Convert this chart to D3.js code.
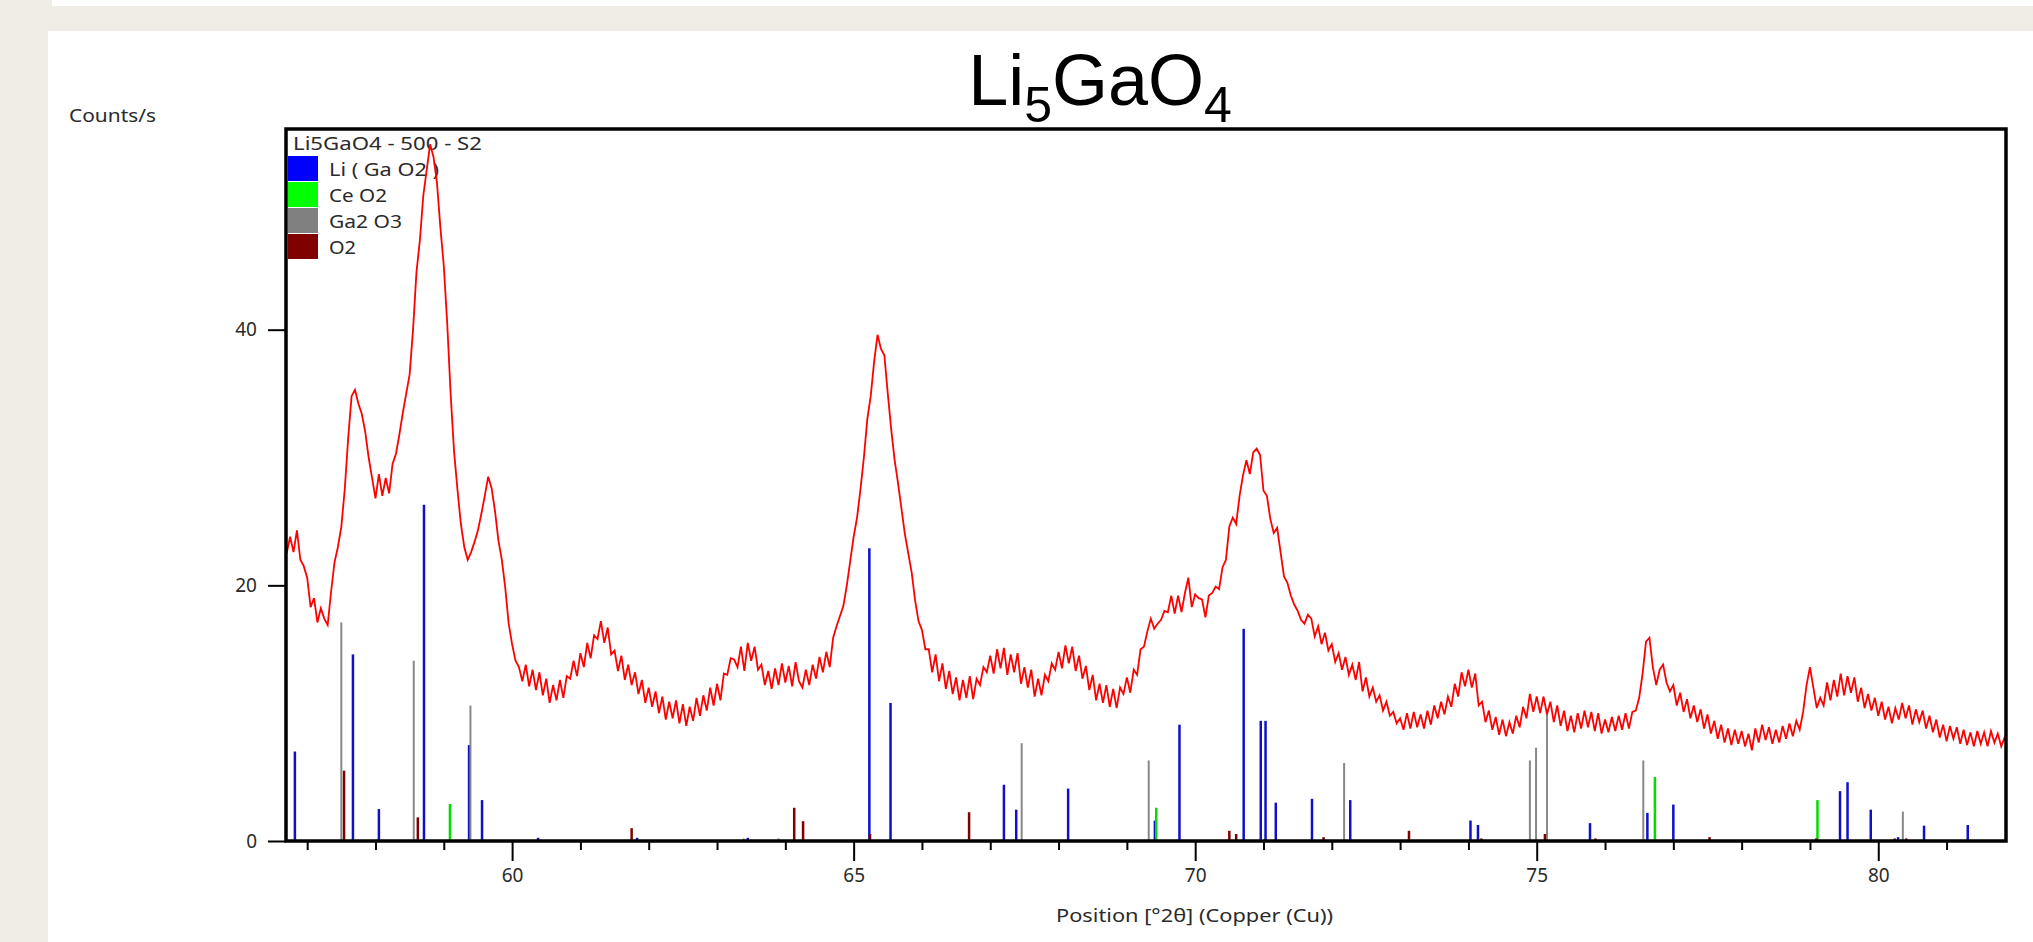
<!DOCTYPE html>
<html>
<head>
<meta charset="utf-8">
<script src="https://cdn.jsdelivr.net/npm/d3@7"></script>
<style>
body { margin: 0; background: #fff; }
text { font-family: "Noto Sans", "Open Sans", sans-serif; fill: #2a2a2a; }
</style>
</head>
<body>
<svg id="svg1" width="2033" height="942"></svg>
<script>
// measured scan, Counts/s every 0.05 deg 2theta starting at 56.70
var thetaStart = 56.70;
var thetaStep = 0.05;
var counts = [
  22.5, 23.8, 22.6, 24.3, 22.0, 21.5, 20.6, 18.3, 19.0, 17.1, 18.2, 17.4, 16.9, 19.5, 21.8, 23.0, 24.6, 27.5, 31.5, 34.8,
  35.3, 34.2, 33.4, 32.0, 30.0, 28.4, 26.8, 28.7, 27.0, 28.4, 27.2, 29.5, 30.3, 31.8, 33.5, 35.0, 36.5, 40.0, 44.5, 47.0,
  50.5, 52.5, 54.5, 53.5, 51.5, 48.0, 45.0, 40.5, 35.0, 30.5, 27.5, 24.8, 23.0, 22.0, 22.6, 23.4, 24.3, 25.6, 27.0, 28.5,
  27.6, 25.8, 23.5, 22.0, 19.8, 17.0, 15.4, 14.1, 13.6, 12.5, 13.8, 12.1, 13.4, 11.8, 13.2, 11.4, 12.7, 10.8, 12.2, 11.0,
  12.6, 11.2, 12.9, 12.7, 14.1, 12.9, 14.7, 13.6, 15.5, 14.3, 16.1, 15.8, 17.2, 15.5, 16.7, 14.6, 14.9, 13.3, 14.5, 12.6,
  13.8, 12.2, 13.2, 11.5, 12.6, 10.8, 12.0, 10.5, 11.7, 10.0, 11.3, 9.5, 10.9, 9.6, 11.0, 9.2, 10.7, 9.0, 10.5, 9.4,
  11.2, 9.8, 11.4, 10.2, 12.0, 10.6, 12.3, 11.0, 13.1, 13.0, 14.3, 14.2, 13.6, 15.2, 13.3, 15.5, 14.1, 15.2, 13.4, 13.8,
  12.2, 13.3, 11.9, 13.5, 12.2, 13.9, 12.4, 13.7, 12.1, 14.0, 12.5, 12.0, 13.4, 12.2, 13.8, 12.7, 14.4, 13.2, 14.8, 13.6,
  15.9, 16.8, 17.6, 18.4, 20.0, 21.9, 23.8, 25.3, 27.5, 30.0, 33.0, 34.8, 37.5, 39.6, 38.5, 38.0, 35.0, 32.2, 29.8, 28.0,
  26.0, 24.0, 22.5, 21.0, 18.8, 17.2, 16.5, 15.0, 15.0, 13.2, 14.6, 12.5, 13.9, 11.9, 13.3, 11.5, 12.8, 11.0, 12.6, 11.2,
  12.9, 11.1, 12.7, 12.2, 13.6, 13.2, 14.5, 13.1, 15.0, 13.5, 15.1, 13.0, 14.6, 13.2, 14.7, 12.3, 13.6, 12.0, 13.4, 11.3,
  12.7, 11.4, 13.0, 12.5, 13.9, 13.4, 14.8, 13.5, 15.3, 13.9, 15.2, 13.3, 14.5, 12.7, 13.7, 11.8, 13.0, 11.0, 12.3, 10.8,
  12.2, 10.5, 11.9, 10.4, 12.0, 11.5, 12.8, 11.6, 13.4, 13.0, 15.0, 15.2, 16.4, 17.4, 16.6, 17.0, 17.3, 18.0, 17.9, 19.2,
  17.8, 19.2, 17.9, 19.4, 20.6, 18.3, 19.3, 19.0, 18.9, 17.5, 19.2, 19.4, 19.9, 19.7, 21.4, 22.0, 24.6, 25.3, 24.8, 27.0,
  28.6, 29.8, 28.7, 30.4, 30.7, 30.2, 27.4, 27.0, 25.2, 24.1, 24.5, 22.6, 20.7, 20.2, 19.2, 18.5, 18.0, 17.3, 17.0, 17.7,
  17.4, 16.0, 16.8, 15.4, 16.3, 14.9, 15.4, 14.0, 14.7, 13.4, 14.4, 13.0, 13.8, 12.6, 14.0, 11.7, 12.8, 11.3, 12.0, 10.9,
  11.4, 10.2, 10.9, 9.8, 10.1, 9.2, 9.6, 8.7, 10.0, 8.8, 10.1, 8.9, 9.9, 8.8, 10.2, 9.1, 10.6, 9.6, 10.9, 9.9,
  11.3, 10.5, 12.3, 11.3, 13.2, 12.1, 13.4, 12.0, 13.1, 10.6, 10.9, 9.3, 10.2, 8.7, 9.7, 8.3, 9.5, 8.2, 9.3, 8.4,
  9.8, 8.9, 10.5, 9.6, 11.5, 10.1, 11.3, 10.0, 11.3, 9.9, 10.9, 9.3, 10.6, 9.0, 10.2, 8.6, 9.8, 8.5, 10.0, 8.8,
  10.2, 8.9, 10.1, 8.6, 10.0, 8.4, 9.5, 8.5, 9.7, 8.6, 9.8, 8.7, 10.0, 8.8, 10.1, 10.2, 11.2, 13.1, 15.6, 15.9,
  13.6, 12.2, 13.4, 13.8, 12.4, 11.7, 12.2, 10.6, 11.6, 10.1, 11.1, 9.6, 10.6, 9.3, 10.3, 8.8, 9.9, 8.4, 9.4, 8.0,
  9.1, 7.7, 8.8, 7.5, 8.7, 7.6, 8.6, 7.4, 8.4, 7.1, 8.8, 7.7, 9.1, 7.9, 8.9, 7.6, 8.7, 7.7, 9.0, 8.0,
  9.2, 8.2, 9.4, 8.7, 10.1, 12.2, 13.6, 12.0, 10.4, 11.2, 10.6, 12.4, 11.0, 12.6, 11.3, 13.1, 11.4, 12.9, 11.6, 12.8,
  10.9, 12.0, 10.4, 11.5, 10.2, 11.2, 9.8, 10.9, 9.5, 10.5, 9.2, 10.4, 9.5, 10.8, 9.6, 10.6, 9.1, 10.3, 9.3, 10.2,
  8.8, 9.8, 8.5, 9.5, 8.1, 9.1, 7.8, 9.0, 8.0, 8.9, 7.6, 8.7, 7.5, 8.5, 7.4, 8.6, 7.6, 8.5, 7.4, 8.6,
  7.7, 8.4, 7.4, 8.1, 7.3
];

// reference patterns: peak position and height
var liGaPos = [56.82, 57.67, 58.05, 58.71, 59.37, 59.56, 60.38, 61.83, 63.45, 65.23, 65.54, 67.20, 67.38, 68.14, 69.41, 69.77, 70.71, 70.96, 71.03, 71.18, 71.71, 72.27, 74.03, 74.14, 75.78, 76.62, 77.00, 79.44, 79.55, 79.89, 80.29, 80.67, 81.31];
var liGaH   = [7.0, 14.6, 2.5, 26.3, 7.5, 3.2, 0.25, 0.25, 0.25, 22.9, 10.8, 4.4, 2.45, 4.1, 1.6, 9.1, 16.6, 9.4, 9.4, 3.0, 3.3, 3.2, 1.6, 1.25, 1.4, 2.2, 2.85, 3.9, 4.6, 2.45, 0.3, 1.2, 1.25];
var ceoPos = [59.09, 69.43, 76.73, 79.11];
var ceoH   = [2.9, 2.6, 5.0, 3.2];
var gaoPos = [57.50, 58.56, 59.39, 63.39, 63.90, 67.46, 69.32, 72.18, 74.90, 74.99, 75.15, 76.56, 80.36];
var gaoH   = [17.1, 14.1, 10.6, 0.2, 0.2, 7.65, 6.3, 6.1, 6.3, 7.3, 10.3, 6.3, 2.3];
var o2Pos = [57.54, 58.62, 61.75, 64.13, 64.26, 65.24, 66.69, 70.50, 70.60, 71.88, 73.13, 74.19, 75.12, 75.86, 77.53, 79.09, 80.24, 80.41];
var o2H   = [5.5, 1.85, 1.0, 2.6, 1.55, 0.55, 2.25, 0.8, 0.55, 0.3, 0.8, 0.2, 0.55, 0.2, 0.3, 0.2, 0.2, 0.2];

var legendNames = ["Li ( Ga O2 )", "Ce O2", "Ga2 O3", "O2"];
var legendWidths = [110, 58, 73, 27];   // measured text widths in the screenshot
var legendColors = ["#0000ff", "#00ff00", "#808080", "#800000"];
var stickColors = ["#1010cc", "#00dd00", "#888888", "#800000"];
var xMajor = [60, 65, 70, 75, 80];
var yTicks = [0, 20, 40];

var svg = d3.select("#svg1");

// page background bands
svg.append("rect").attr("x", 0).attr("y", 0).attr("width", 2033).attr("height", 942).attr("fill", "#f0ede7");
svg.append("rect").attr("x", 52).attr("y", 0).attr("width", 1981).attr("height", 6).attr("fill", "#fff");
svg.append("rect").attr("x", 48).attr("y", 31).attr("width", 1985).attr("height", 911).attr("fill", "#fff");

var x = d3.scaleLinear().domain([56.69, 81.87]).range([286, 2006]);
var y = d3.scaleLinear().domain([0, 55.7]).range([841, 129]);

// title with subscripts
var title = svg.append("text")
    .attr("x", 1100).attr("y", 105)
    .attr("text-anchor", "middle")
    .style("font-family", "'Liberation Sans', Arial, sans-serif")
    .style("font-size", "72px")
    .style("fill", "#000");
title.append("tspan").text("Li");
title.append("tspan").attr("dy", 17).style("font-size", "50px").text("5");
title.append("tspan").attr("dy", -17).text("GaO");
title.append("tspan").attr("dy", 17).style("font-size", "50px").text("4");

svg.append("text").attr("x", 69).attr("y", 122).style("font-size", "18px")
    .attr("textLength", 87).attr("lengthAdjust", "spacingAndGlyphs").text("Counts/s");

// axes
var minor = d3.range(57, 82).filter(function(d) { return xMajor.indexOf(d) < 0; });
var gMinor = svg.append("g").attr("transform", "translate(0," + y(0) + ")")
    .call(d3.axisBottom(x).tickValues(minor).tickSize(9).tickFormat(""));
var gMajor = svg.append("g").attr("transform", "translate(0," + y(0) + ")")
    .call(d3.axisBottom(x).tickValues(xMajor).tickSize(20).tickPadding(8).tickFormat(d3.format("d")));
var gY = svg.append("g").attr("transform", "translate(" + x.range()[0] + ",0)")
    .call(d3.axisLeft(y).tickValues(yTicks).tickSize(18).tickPadding(11).tickFormat(d3.format("d")));

[gMinor, gMajor, gY].forEach(function(g) {
    g.select(".domain").remove();
    g.selectAll("line").attr("stroke", "#000").attr("stroke-width", 2);
    g.selectAll("text").style("font-size", "19px").style("font-family", "'Noto Sans', sans-serif").attr("fill", "#2a2a2a");
});

svg.append("text").attr("x", 1056).attr("y", 922)
    .style("font-size", "18px")
    .attr("textLength", 277).attr("lengthAdjust", "spacingAndGlyphs")
    .text("Position [°2θ] (Copper (Cu))");

// stick patterns
var sticks = [[liGaPos, liGaH], [ceoPos, ceoH], [gaoPos, gaoH], [o2Pos, o2H]];
sticks.forEach(function(s, k) {
    var rows = s[0].map(function(p, i) { return [p, s[1][i]]; });
    svg.append("g").selectAll("line")
        .data(rows)
        .enter()
        .append("line")
        .attr("x1", function(d) { return x(d[0]); })
        .attr("x2", function(d) { return x(d[0]); })
        .attr("y1", y(0))
        .attr("y2", function(d) { return y(d[1]); })
        .attr("stroke", stickColors[k])
        .attr("stroke-width", k == 2 ? 2 : 2.5);
});

// legend
svg.append("text").attr("x", 293).attr("y", 150).style("font-size", "18px").attr("fill", "#222")
    .attr("textLength", 189).attr("lengthAdjust", "spacingAndGlyphs").text("Li5GaO4 - 500 - S2");
var leg = svg.append("g").selectAll("g").data(legendNames).enter().append("g")
    .attr("transform", function(d, i) { return "translate(288," + (156 + i * 26) + ")"; });
leg.append("rect").attr("width", 30).attr("height", 25).attr("fill", function(d, i) { return legendColors[i]; });
leg.append("text").attr("x", 41).attr("y", 20).style("font-size", "18px")
    .attr("textLength", function(d, i) { return legendWidths[i]; })
    .attr("lengthAdjust", "spacingAndGlyphs")
    .text(function(d) { return d; });

// measured curve
svg.append("clipPath").attr("id", "clip").append("rect")
    .attr("x", 286).attr("y", 129).attr("width", 1720).attr("height", 712);
var line = d3.line()
    .x(function(d, i) { return x(thetaStart + i * thetaStep); })
    .y(function(d) { return y(d); });
svg.append("path")
    .datum(counts)
    .attr("clip-path", "url(#clip)")
    .attr("d", line)
    .attr("fill", "none")
    .attr("stroke", "#ff0000")
    .attr("stroke-width", 1.8);

// frame
svg.append("rect").attr("x", 286).attr("y", 129).attr("width", 1720).attr("height", 712)
    .attr("fill", "none").attr("stroke", "#000").attr("stroke-width", 3.5);
</script>
</body>
</html>
